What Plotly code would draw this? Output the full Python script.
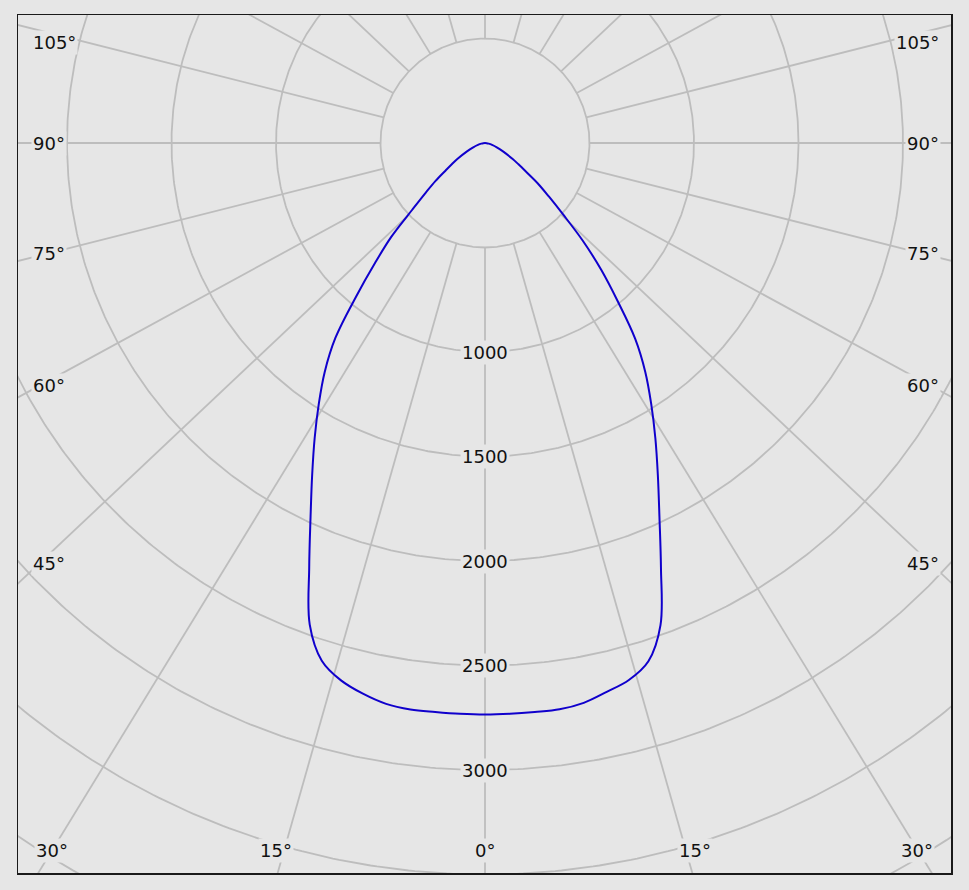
import numpy as np
import plotly.graph_objects as go

# ---- data ----
# gamma angles (deg from nadir) and luminous intensity
ANGLES = [0, 2.5, 5, 7.5, 10, 12.5, 15, 17.5, 20, 22.5, 25, 27.5, 30, 32.5, 35,
          37.5, 40, 42.5, 45, 47.5, 50, 52.5, 55, 57.5, 60, 65, 70, 75, 80, 85, 90]
LEFT_I = [2735, 2734, 2733, 2734, 2725, 2699, 2662, 2597, 2452, 2198, 1975, 1791,
          1630, 1480, 1337, 1176, 960, 779, 632, 471, 371, 298, 231, 187, 153,
          95, 60, 35, 18, 8, 0]
RIGHT_I = [2735, 2734, 2733, 2733, 2720, 2690, 2660, 2600, 2455, 2200, 1975, 1791,
           1630, 1480, 1337, 1180, 987, 823, 663, 508, 400, 320, 240, 190, 153,
           95, 60, 35, 18, 8, 0]

RING_VALUES = [500, 1000, 1500, 2000, 2500, 3000, 3500, 4000, 4500]
RING_LABELS = [1000, 1500, 2000, 2500, 3000]
SPOKE_ANGLES = list(range(0, 360, 15))
ANGLE_LABELS_SIDE = ["105°", "90°", "75°", "60°", "45°"]
ANGLE_LABELS_BOTTOM = ["30°", "15°", "0°", "15°", "30°"]

# ---- layout geometry (pixels) ----
W, H = 969, 890
L, R, T, B = 18, 18, 15, 17
CX, CY = 485.0, 143.0          # polar centre in pixels
PX_PER_UNIT = 0.209
SPOKE_ASPECT = 1.06            # spokes in the reference are drawn slightly widened

def px2x(px):
    return (px - CX) / PX_PER_UNIT

def px2y(py):
    return (CY - py) / PX_PER_UNIT

BG = "#e6e6e6"
GRID = "#bdbdbd"

fig = go.Figure()

# rings
t = np.linspace(0, 2 * np.pi, 721)
for rv in RING_VALUES:
    fig.add_trace(go.Scatter(x=rv * np.sin(t), y=-rv * np.cos(t), mode="lines",
                             line=dict(color=GRID, width=1.8), hoverinfo="skip",
                             showlegend=False))
# spokes
for a in SPOKE_ANGLES:
    ar = np.radians(a)
    dx, dy = SPOKE_ASPECT * np.sin(ar), -np.cos(ar)
    n = np.hypot(dx, dy)
    dx, dy = dx / n, dy / n
    r0, r1 = RING_VALUES[0], 6000
    fig.add_trace(go.Scatter(x=[r0 * dx, r1 * dx], y=[r0 * dy, r1 * dy], mode="lines",
                             line=dict(color=GRID, width=1.8), hoverinfo="skip",
                             showlegend=False))

# intensity curve: left half then right half
ang = np.radians(np.array(ANGLES, dtype=float))
li = np.array(LEFT_I, dtype=float)
ri = np.array(RIGHT_I, dtype=float)
xs = np.concatenate([(-li * np.sin(ang))[::-1], (ri * np.sin(ang))[1:]])
ys = np.concatenate([(-li * np.cos(ang))[::-1], (-ri * np.cos(ang))[1:]])
fig.add_trace(go.Scatter(x=xs, y=ys, mode="lines",
                         line=dict(color="#1000cc", width=2, shape="spline", smoothing=1.0),
                         hoverinfo="skip", showlegend=False))

FONT = dict(family="DejaVu Sans, Verdana, sans-serif", size=18, color="#111111")
ann = []
for v in RING_LABELS:
    ann.append(dict(x=0, y=-v, text=str(v), showarrow=False, font=FONT,
                    bgcolor=BG, borderpad=1, xanchor="center", yanchor="middle"))

side_y = [42, 143, 253, 385, 563]
for txt, py in zip(ANGLE_LABELS_SIDE, side_y):
    ann.append(dict(x=px2x(31), y=px2y(py), text=txt, showarrow=False, font=FONT,
                    bgcolor=BG, borderpad=1, xanchor="left", yanchor="middle"))
    ann.append(dict(x=px2x(941), y=px2y(py), text=txt, showarrow=False, font=FONT,
                    bgcolor=BG, borderpad=1, xanchor="right", yanchor="middle"))
bottom_x = [52, 276, 485, 695, 917]
for txt, px in zip(ANGLE_LABELS_BOTTOM, bottom_x):
    ann.append(dict(x=px2x(px), y=px2y(850), text=txt, showarrow=False, font=FONT,
                    bgcolor=BG, borderpad=1, xanchor="center", yanchor="middle"))

fig.update_layout(
    width=W, height=H,
    margin=dict(l=L, r=R, t=T, b=B),
    paper_bgcolor=BG, plot_bgcolor=BG,
    annotations=ann,
    xaxis=dict(range=[px2x(L), px2x(W - R)], showgrid=False, zeroline=False,
               showticklabels=False, ticks="", showline=True, mirror=True,
               linecolor="#1a1a1a", linewidth=1.5, fixedrange=True),
    yaxis=dict(range=[px2y(H - B), px2y(T)], showgrid=False, zeroline=False,
               showticklabels=False, ticks="", showline=True, mirror=True,
               linecolor="#1a1a1a", linewidth=1.5, fixedrange=True),
)

fig.write_html("out.html",
               config={"displayModeBar": False, "staticPlot": True},
               post_script="document.body.style.margin='0';"
                           "document.body.style.overflow='hidden';"
                           "document.body.style.background='" + BG + "';")
